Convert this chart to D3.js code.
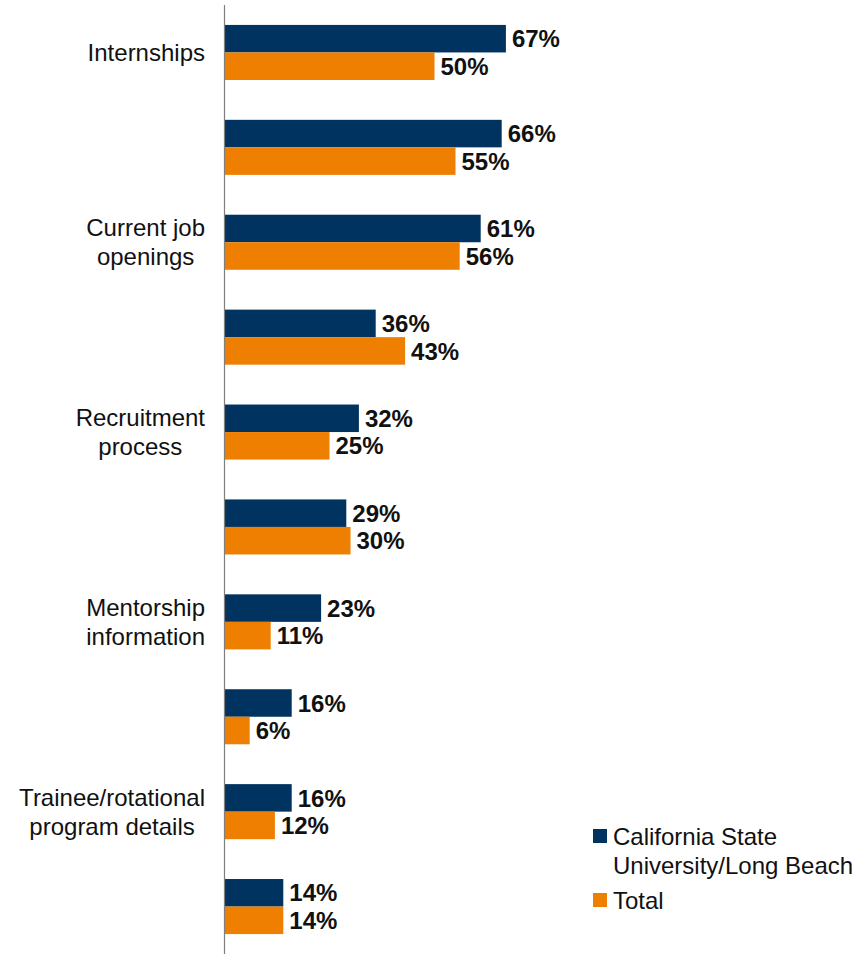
<!DOCTYPE html>
<html>
<head>
<meta charset="utf-8">
<script src="https://cdn.jsdelivr.net/npm/d3@7"></script>
<style>
  html, body { margin: 0; padding: 0; background: #fff; }
  svg { display: block; font-family: "Liberation Sans", Arial, sans-serif; }
</style>
</head>
<body>
<svg id="chart" width="868" height="954"></svg>
<script>
// Data
const categories = [
  ["Internships"],
  [""],
  ["Current job", "openings"],
  [""],
  ["Recruitment", "process"],
  [""],
  ["Mentorship", "information"],
  [""],
  ["Trainee/rotational", "program details"],
  [""]
];
const seriesNames = ["California State\nUniversity/Long Beach", "Total"];
const csulb = [67, 66, 61, 36, 32, 29, 23, 16, 16, 14];
const total = [50, 55, 56, 43, 25, 30, 11, 6, 12, 14];
const colors = ["#00335F", "#EF7F00"];

const svg = d3.select("#chart");
const axisX = 224.5;
const x = d3.scaleLinear().domain([0, 100]).range([axisX, axisX + 420]);
const idx = d3.range(categories.length);
const y = d3.scaleBand().domain(idx).range([5, 954]).paddingInner(0.42).paddingOuter(0.21);
const inner = d3.scaleBand().domain([0, 1]).range([0, y.bandwidth()]);

const series = [csulb, total];
const fs = 24;

const g = svg.append("g");
series.forEach((vals, si) => {
  g.selectAll(".bar" + si)
    .data(idx)
    .enter().append("rect")
    .attr("x", x(0))
    .attr("y", i => y(i) + inner(si))
    .attr("width", i => x(vals[i]) - x(0))
    .attr("height", inner.bandwidth())
    .attr("fill", colors[si]);
  g.selectAll(".lab" + si)
    .data(idx)
    .enter().append("text")
    .attr("x", i => x(vals[i]) + 6)
    .attr("y", i => y(i) + inner(si) + inner.bandwidth() / 2)
    .attr("dy", "0.36em")
    .attr("font-size", fs)
    .attr("font-weight", "bold")
    .attr("fill", "#111")
    .text(i => vals[i] + "%");
});

// axis line
svg.append("line")
  .attr("x1", axisX).attr("x2", axisX)
  .attr("y1", 5).attr("y2", 954)
  .attr("stroke", "#7f7f7f").attr("stroke-width", 1.2);

// category labels (lines centred within a right-aligned block)
const lh = 29;
idx.forEach(i => {
  const lines = categories[i].filter(s => s);
  if (!lines.length) return;
  const cy = y(i) + y.bandwidth() / 2;
  const t = svg.append("text")
    .attr("text-anchor", "middle")
    .attr("font-size", fs)
    .attr("fill", "#111");
  const spans = lines.map((ln, k) => t.append("tspan")
      .attr("y", cy + (k - (lines.length - 1) / 2) * lh)
      .attr("dy", "0.36em")
      .text(ln));
  const maxW = d3.max(spans, s => s.node().getComputedTextLength());
  spans.forEach(s => s.attr("x", 205 - maxW / 2));
});

// legend
const legend = svg.append("g");
const legY = [836, 900];
seriesNames.forEach((name, si) => {
  legend.append("rect")
    .attr("x", 593).attr("y", legY[si] - 7)
    .attr("width", 14).attr("height", 14)
    .attr("fill", colors[si]);
  const t = legend.append("text")
    .attr("font-size", fs).attr("fill", "#111");
  name.split("\n").forEach((ln, k) => {
    t.append("tspan").attr("x", 613)
      .attr("y", legY[si] + k * 29)
      .attr("dy", "0.36em")
      .text(ln);
  });
});
</script>
</body>
</html>
